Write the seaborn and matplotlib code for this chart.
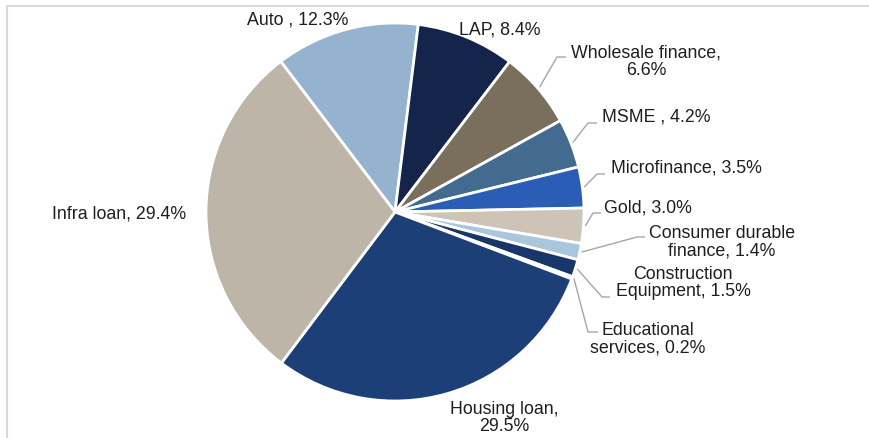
import matplotlib
matplotlib.use("Agg")
import matplotlib.pyplot as plt
import seaborn as sns
import numpy as np
from matplotlib.patches import Rectangle

# ---------------- data ----------------
categories = ["Auto ", "LAP", "Wholesale finance", "MSME ", "Microfinance", "Gold",
              "Consumer durable\nfinance", "Construction\nEquipment",
              "Educational\nservices", "Housing loan", "Infra loan"]
shares = [12.3, 8.4, 6.6, 4.2, 3.5, 3.0, 1.4, 1.5, 0.2, 29.5, 29.4]
separators = [" ", " ", "\n", " ", " ", " ", " ", " ", " ", "\n", " "]
colors = ["#95B3CF", "#14244A", "#7A6E5C", "#436B8F", "#2A5DB5", "#CDC4B7",
          "#A9C6DD", "#19366A", "#D3DCE6", "#1C3F77", "#BDB5A8"]

# ---------------- layout (pixel space of the 869x439 canvas) ----------------
W, H = 869, 439
CX, CY, R = 395, 213, 189
label_xy = [(298, 20), (500, 30), (646, 62), (656, 117), (686, 168), (648, 208),
            (722, 242), (683, 283), (648, 339), (504, 418), (119, 214)]
# leader lines: (elbow point, end point near text) or None
leaders = [None, None,
           ((557, 58), (566, 58)),
           ((588, 124), (597, 124)),
           ((597, 175), (605, 175)),
           ((593, 214), (601, 214)),
           ((637, 238), (645, 238)),
           ((602, 298), (610, 298)),
           ((588, 333), (598, 333)),
           None, None]


def to_data(p):
    return ((p[0] - CX) / R, (CY - p[1]) / R)


sns.set_theme(style="white")
plt.rcParams["font.family"] = ["Liberation Sans", "DejaVu Sans"]

fig = plt.figure(figsize=(W / 100, H / 100), dpi=100)
fig.patch.set_facecolor("white")
ax = fig.add_axes([0, 0, 1, 1])

wedges, _ = ax.pie(shares, colors=colors, startangle=127.2, counterclock=False,
                   radius=1.0, center=(0, 0),
                   wedgeprops=dict(edgecolor="white", linewidth=2.0))

ax.set_aspect("auto")
ax.set_xlim(-CX / R, (W - CX) / R)
ax.set_ylim(-(H - CY) / R, CY / R)
ax.axis("off")

for i, (w, name, v, sep) in enumerate(zip(wedges, categories, shares, separators)):
    label = f"{name},{sep}{v:.1f}%"
    tx, ty = to_data(label_xy[i])
    ax.text(tx, ty, label, ha="center", va="center", fontsize=12.8,
            color="#1E1E1E", linespacing=1.05, multialignment="center")
    if leaders[i] is not None:
        mid = np.deg2rad((w.theta1 + w.theta2) / 2)
        ax_, ay_ = 1.01 * np.cos(mid), 1.01 * np.sin(mid)
        ex, ey = to_data(leaders[i][0])
        fx, fy = to_data(leaders[i][1])
        ax.plot([ax_, ex, fx], [ay_, ey, fy], color="#A6A6A6", lw=1.0,
                solid_capstyle="butt")

# chart frame (only top and left edges fall inside the crop)
fig.patches.append(Rectangle((7 / W, -0.2), 1.5, 1.2 - 7 / H + 0.0,
                             transform=fig.transFigure, fill=False,
                             edgecolor="#D9D9D9", linewidth=1.5))

fig.savefig("out.png", dpi=100, facecolor="white")
